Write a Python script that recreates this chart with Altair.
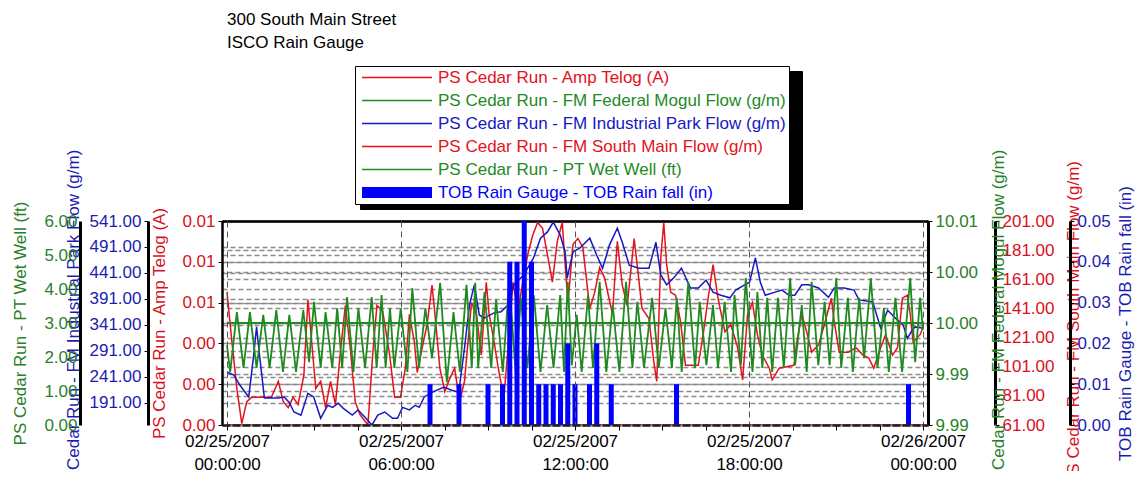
import altair as alt
import pandas as pd

FONT = "Liberation Sans"
START = pd.Timestamp("2007-02-25 00:00:00")

TITLE_LINES = ["300 South Main Street", "ISCO Rain Gauge"]

SERIES = [
    "PS Cedar Run - Amp Telog (A)",
    "PS Cedar Run - FM Federal Mogul Flow (g/m)",
    "PS Cedar Run - FM Industrial Park Flow (g/m)",
    "PS Cedar Run - FM South Main Flow (g/m)",
    "PS Cedar Run - PT Wet Well (ft)",
    "TOB Rain Gauge - TOB Rain fall (in)",
]
SERIES_COLORS = ["#e3121c", "#1f8a1f", "#1717c4", "#e3121c", "#1f8a1f", "#0000ff"]
RED_TXT, GREEN_TXT, BLUE_TXT = "#d81020", "#2a7f2a", "#1c1cb0"

# x ticks (hours after 02/25/2007 00:00)
TICK_HOURS = [0, 1.5, 3, 4.5, 6, 7.5, 9, 10.5, 12, 13.5, 15, 16.5, 18, 19.5, 21, 22.5, 24]

# axis tick values
AMP_TICKS = [0, 0.002, 0.004, 0.006, 0.008, 0.010]
FM_TICKS = [9.99, 9.995, 10.0, 10.00499, 10.01]
IP_TICKS = [191, 241, 291, 341, 391, 441, 491, 541]
SM_TICKS = [61, 81, 101, 121, 141, 161, 181, 201]
WW_TICKS = [0, 1, 2, 3, 4, 5, 6]
RAIN_TICKS = [0, 0.01, 0.02, 0.03, 0.04, 0.05]

# PS Cedar Run - Amp Telog (A)
AMP_HOURS = [0.0, 24.0]
AMP_A = [0.0, 0.0]

# PS Cedar Run - FM Federal Mogul Flow (g/m)
FM_HOURS = [0.0, 24.0]
FM_GPM = [10.0, 10.0]

# PS Cedar Run - FM Industrial Park Flow (g/m)
IP_HOURS = [0.00, 0.24, 0.44, 0.75, 0.92, 1.02, 1.12, 1.29, 1.77, 1.97, 2.14, 2.31, 2.55, 2.79, 2.99,
            3.23, 3.47, 3.64, 3.84, 4.01, 4.32, 4.52, 4.76, 5.00, 5.20, 5.44, 5.71, 5.88, 6.05, 6.29,
            6.49, 6.63, 6.80, 7.07, 7.48, 7.75, 7.99, 8.19, 8.36, 8.53, 8.70, 8.87, 9.21, 9.45, 9.69,
            9.89, 10.23, 10.57, 10.81, 11.05, 11.25, 11.49, 11.66, 11.73, 11.93, 12.17, 12.51, 12.75,
            12.95, 13.19, 13.46, 13.63, 13.87, 14.21, 14.55, 14.79, 14.96, 15.16, 15.40, 15.67, 15.98,
            16.25, 16.52, 16.76, 17.03, 17.34, 17.54, 17.85, 18.02, 18.22, 18.39, 18.56, 18.90, 19.14,
            19.38, 19.58, 19.82, 20.06, 20.40, 20.74, 20.94, 21.28, 21.62, 21.79, 22.27, 22.37, 22.54,
            22.78, 23.12, 23.32, 23.46, 23.63, 23.73, 23.97]
IP_GPM = [250, 244, 225, 202, 283, 337, 283, 200, 200, 202, 192, 173, 167, 209, 202,
          161, 186, 182, 190, 180, 167, 177, 163, 148, 167, 173, 161, 161, 182, 177,
          186, 182, 202, 211, 221, 215, 211, 296, 379, 418, 360, 354, 364, 366, 379,
          418, 437, 470, 508, 520, 539, 514, 481, 431, 481, 489, 508, 475,
          450, 495, 527, 500, 456, 450, 450, 500, 437, 418, 431, 450, 412,
          412, 427, 404, 398, 393, 408, 418, 423, 470, 423, 398, 404, 408,
          398, 398, 418, 418, 412, 394, 412, 412, 408, 389, 385, 366, 335,
          369, 350, 340, 315, 331, 337, 335]

# PS Cedar Run - FM South Main Flow (g/m)
SM_HOURS = [0.00, 0.17, 0.34, 0.51, 0.68, 0.85, 1.53, 1.77, 1.94, 2.11, 2.28, 2.45, 2.65, 2.79, 2.89,
            3.06, 3.23, 3.40, 3.57, 3.74, 3.91, 4.08, 4.25, 4.42, 4.59, 4.86, 5.03, 5.17, 5.37, 5.61,
            5.78, 5.98, 6.15, 6.29, 6.46, 6.56, 6.73, 6.90, 7.07, 7.17, 7.34, 7.51, 7.68, 7.85, 8.02,
            8.19, 8.43, 8.60, 8.77, 8.94, 9.04, 9.21, 9.38, 9.55, 9.69, 9.86, 10.03, 10.20, 10.37, 10.54,
            10.71, 10.88, 11.05, 11.22, 11.39, 11.56, 11.66, 11.76, 11.93, 12.10, 12.27, 12.51, 12.68,
            12.85, 13.02, 13.29, 13.46, 13.63, 13.80, 14.04, 14.21, 14.31, 14.55, 14.72, 14.82, 14.96,
            15.06, 15.16, 15.30, 15.47, 15.64, 15.81, 16.25, 16.42, 16.59, 16.76, 16.93, 17.17, 17.37,
            17.61, 17.78, 17.95, 18.12, 18.29, 18.46, 18.70, 18.80, 19.04, 19.55, 19.65, 19.82, 19.99,
            20.16, 20.40, 20.60, 20.84, 20.94, 21.11, 21.42, 21.69, 21.93, 22.13, 22.30, 22.54, 22.71,
            22.95, 23.12, 23.29, 23.46, 23.56, 23.66, 23.90, 24.00]
SM_GPM = [152, 118, 86, 62, 77, 80, 80, 91, 77, 73, 80, 75, 95, 147, 125,
          86, 91, 73, 91, 75, 111, 143, 114, 77, 68, 61, 111, 143, 139, 109,
          80, 80, 100, 137, 118, 97, 114, 130, 157, 137, 100, 84, 93, 100, 77,
          91, 145, 137, 109, 159, 137, 118, 97, 80, 114, 159, 139, 159, 178, 191,
          200, 196, 178, 159, 187, 200, 171, 145, 185, 189, 183, 141, 152,
          169, 162, 137, 187, 157, 143, 189, 159, 141, 134, 104, 91, 176,
          200, 171, 152, 150, 132, 102, 102, 123, 148, 171, 148, 125, 130,
          114, 92, 137, 145, 123, 109, 100, 92, 100, 102, 118, 137, 125,
          111, 116, 130, 148, 132, 111, 111, 114, 109, 107, 100, 114, 123,
          109, 114, 148, 150, 137, 118, 123, 128]

# PS Cedar Run - PT Wet Well (ft)
WW_HOURS = [0.00, 0.11, 0.34, 0.57, 0.79, 1.02, 1.25, 1.47, 1.70, 1.93, 2.15, 2.38, 2.63, 2.83, 3.00,
            3.23, 3.40, 3.63, 3.80, 3.97, 4.14, 4.36, 4.53, 4.76, 4.99, 5.16, 5.33, 5.47, 5.62, 5.77,
            5.99, 6.22, 6.39, 6.62, 6.84, 7.07, 7.35, 7.58, 7.81, 8.03, 8.26, 8.44, 8.56, 8.66, 8.88,
            9.11, 9.28, 9.51, 9.73, 9.96, 10.13, 10.36, 10.58, 10.81, 11.04, 11.26, 11.49, 11.62, 11.75,
            11.89, 12.06, 12.23, 12.45, 12.62, 12.85, 13.08, 13.30, 13.53, 13.76, 13.98, 14.15, 14.38,
            14.66, 14.89, 15.12, 15.34, 15.51, 15.68, 15.91, 16.14, 16.30, 16.53, 16.76, 16.93, 17.16,
            17.38, 17.50, 17.72, 17.89, 18.12, 18.29, 18.46, 18.63, 18.80, 19.00, 19.20, 19.42, 19.59,
            19.82, 19.99, 20.16, 20.39, 20.61, 20.78, 21.01, 21.18, 21.41, 21.58, 21.80, 21.97, 22.20,
            22.43, 22.65, 22.82, 23.05, 23.28, 23.56, 23.73, 23.90, 24.00]
WW_FT = [2.35, 1.56, 3.32, 1.68, 3.32, 1.68, 3.24, 1.68, 3.38, 1.56, 3.24, 1.56, 3.38, 1.85, 3.62,
         1.68, 3.32, 1.68, 3.44, 1.68, 3.76, 1.56, 3.44, 1.68, 3.76, 1.68, 3.82, 1.68, 3.44, 1.68,
         3.44, 1.56, 4.03, 1.68, 3.44, 1.97, 4.18, 1.26, 3.32, 1.56, 4.12, 1.68, 4.18, 1.68, 3.91,
         1.68, 3.68, 1.56, 4.21, 1.47, 3.74, 1.68, 3.82, 1.56, 3.53, 1.68, 3.82, 1.56, 4.21,
         1.76, 3.24, 1.56, 3.82, 1.68, 4.21, 1.56, 3.53, 1.56, 4.21, 1.68, 3.62, 1.68,
         3.74, 1.68, 3.44, 1.68, 3.74, 1.56, 4.21, 1.68, 3.62, 1.76, 3.53, 1.68, 3.62,
         1.56, 3.82, 1.76, 4.32, 1.56, 3.91, 1.68, 3.74, 1.56, 3.74, 1.68, 4.32, 1.76,
         3.53, 1.56, 4.21, 1.76, 3.62, 1.76, 4.32, 1.68, 3.74, 1.56, 3.74, 1.97, 4.32,
         1.68, 3.44, 1.56, 3.74, 1.56, 4.32, 1.85, 3.74, 2.80]

# TOB Rain Gauge - TOB Rain fall (in)
RAIN_HOURS = [7.0, 8.0, 9.0, 9.5, 9.75, 10.0, 10.25, 10.5, 10.75, 11.0, 11.25, 11.5, 11.75, 12.0,
              12.5, 12.75, 13.25, 15.5, 23.5]
RAIN_IN = [0.01, 0.01, 0.01, 0.01, 0.04, 0.04, 0.05, 0.04, 0.01, 0.01, 0.01, 0.01, 0.02, 0.01,
           0.01, 0.02, 0.01, 0.01, 0.01]


def to_time(hours):
    return [START + pd.Timedelta(hours=h) for h in hours]


def frame(hours, values, name):
    return pd.DataFrame({"time": to_time(hours), "value": values, "series": name, "entry": name})


def dt(t):
    return alt.DateTime(year=t.year, month=t.month, date=t.day, hours=t.hour, minutes=t.minute)


tick_times = [dt(t) for t in to_time(TICK_HOURS)]
x_scale = alt.Scale(domain=[tick_times[0], tick_times[-1]])

IS_RAIN = "datum.value == '" + SERIES[5] + "'"
LEGEND_COMMON = dict(
    orient="none", title=None,
    symbolType={"expr": IS_RAIN + " ? 'M-1.5,-1.83H21.83V1.83H-1.5Z' : 'M-1.5,0H21.83'"},
    symbolSize=36, symbolOffset=0,
    symbolStrokeWidth={"expr": IS_RAIN + " ? 0 : 1.5"},
    labelFont=FONT, labelFontSize=17, labelLimit=0,
    rowPadding=5, padding=3,
)

color_enc = alt.Color(
    "series:N",
    scale=alt.Scale(domain=SERIES, range=SERIES_COLORS),
    legend=alt.Legend(
        legendX=133, legendY=-155, zindex=2, labelOffset=63,
        symbolFillColor={"expr": IS_RAIN + " ? '#0000ff' : 'transparent'"},
        labelColor={"expr": "scale('color', datum.value)"},
        strokeColor="black", fillColor="white",
        **LEGEND_COMMON,
    ),
)

# black drop shadow behind the legend box: same rows, no label text, entries listed in
# reverse so that Vega-Lite keeps it as a separate legend
shadow_enc = alt.StrokeDash(
    "entry:N",
    scale=alt.Scale(domain=SERIES[::-1], range=[[1, 0]] * len(SERIES)),
    legend=alt.Legend(
        legendX=138, legendY=-150, zindex=1, labelOffset=419, labelExpr="''",
        symbolFillColor="black", symbolStrokeColor="black", labelColor="black",
        strokeColor="black", fillColor="black",
        **LEGEND_COMMON,
    ),
)

MAJOR_TEST = "hours(datum.value) % 6 == 0 && minutes(datum.value) == 0"

x_bottom = alt.X(
    "time:T", scale=x_scale,
    axis=alt.Axis(
        orient="bottom", values=tick_times, title=None, zindex=1,
        labelExpr=MAJOR_TEST + " ? [timeFormat(datum.value, '%m/%d/%Y'), "
                               "timeFormat(datum.value, '%H:%M:%S')] : ''",
        labelFont=FONT, labelFontSize=17, labelColor="black", labelLineHeight=23,
        labelOverlap=False, labelFlush=False, labelPadding=3,
        tickColor="black", tickSize=5, domainColor="#222", domainWidth=2.5, domainDash=[8, 2],
        grid=True, gridColor="#555", gridDash=[6, 4], gridWidth=1,
        gridOpacity={"condition": {"test": MAJOR_TEST, "value": 1}, "value": 0},
    ),
)
x_top = alt.X(
    "time:T", scale=x_scale,
    axis=alt.Axis(orient="top", labels=False, ticks=False, grid=False, title=None,
                  domainColor="black", domainWidth=2.5),
)
x_plain = alt.X("time:T", scale=x_scale, axis=None)


def yaxis(orient, offset, values, color, title, tick=4, domain_width=3, title_pad=5):
    return alt.Axis(
        orient=orient, offset=offset, values=values, format=".2f",
        labelColor=color, labelFont=FONT, labelFontSize=17, labelPadding=3, labelOverlap=False,
        title=title, titleColor=color, titleFont=FONT, titleFontSize=17, titleFontWeight="normal",
        titleAngle=270, titleBaseline="bottom" if orient == "left" else "top", titlePadding=title_pad,
        domainColor="black", domainWidth=domain_width, tickColor="black", tickSize=tick,
        grid=True, gridColor="#8c8c8c", gridDash=[5, 3], gridWidth=1.5,
    )


amp = alt.Chart(frame(AMP_HOURS, AMP_A, SERIES[0])).mark_line(strokeWidth=1.5, clip=True).encode(
    x=x_bottom,
    y=alt.Y("value:Q", scale=alt.Scale(domain=[0, 0.010]),
            axis=yaxis("left", 0, AMP_TICKS, RED_TXT, SERIES[0], domain_width=2.5, title_pad=13)),
    color=color_enc,
    strokeDash=shadow_enc,
)

sm = alt.Chart(frame(SM_HOURS, SM_GPM, SERIES[3])).mark_line(strokeWidth=1.5, clip=True).encode(
    x=x_plain,
    y=alt.Y("value:Q", scale=alt.Scale(domain=[61, 201]),
            axis=yaxis("right", 67, SM_TICKS, RED_TXT, SERIES[3], title_pad=12)),
    color=color_enc,
)

ip = alt.Chart(frame(IP_HOURS, IP_GPM, SERIES[2])).mark_line(strokeWidth=1.5, clip=True).encode(
    x=x_plain,
    y=alt.Y("value:Q", scale=alt.Scale(domain=[148, 541]),
            axis=yaxis("left", 74, IP_TICKS, BLUE_TXT, SERIES[2], title_pad=7)),
    color=color_enc,
)

ww = alt.Chart(frame(WW_HOURS, WW_FT, SERIES[4])).mark_line(strokeWidth=1.8, clip=True).encode(
    x=x_plain,
    y=alt.Y("value:Q", scale=alt.Scale(domain=[0, 6]),
            axis=yaxis("left", 142, WW_TICKS, GREEN_TXT, SERIES[4], tick=0, title_pad=14)),
    color=color_enc,
)

fm = alt.Chart(frame(FM_HOURS, FM_GPM, SERIES[1])).mark_line(strokeWidth=2, clip=True).encode(
    x=x_top,
    y=alt.Y("value:Q", scale=alt.Scale(domain=[9.99, 10.01]),
            axis=yaxis("right", 0, FM_TICKS, GREEN_TXT, SERIES[1], title_pad=13)),
    color=color_enc,
)

rain = alt.Chart(frame(RAIN_HOURS, RAIN_IN, SERIES[5])).mark_bar(size=5, clip=True).encode(
    x=x_plain,
    y=alt.Y("value:Q", scale=alt.Scale(domain=[0, 0.05]),
            axis=yaxis("right", 142, RAIN_TICKS, BLUE_TXT, SERIES[5], title_pad=7)),
    color=color_enc,
)

chart = (
    alt.layer(amp, sm, ip, ww, fm, rain)
    .resolve_scale(y="independent")
    .resolve_axis(x="independent", y="independent")
    .properties(
        width=706, height=204,
        padding={"left": 214, "top": 213, "right": 207, "bottom": 46},
        autosize=alt.AutoSizeParams(type="none"),
        title=alt.TitleParams(text=TITLE_LINES, anchor="start", frame="group", font=FONT,
                              fontSize=17, fontWeight="normal", color="black", offset=14,
                              dx=5, lineHeight=23),
    )
    .configure_view(strokeWidth=0)
    .configure(background="white")
)

chart.save("out.html", embed_options={"renderer": "svg", "actions": False})
